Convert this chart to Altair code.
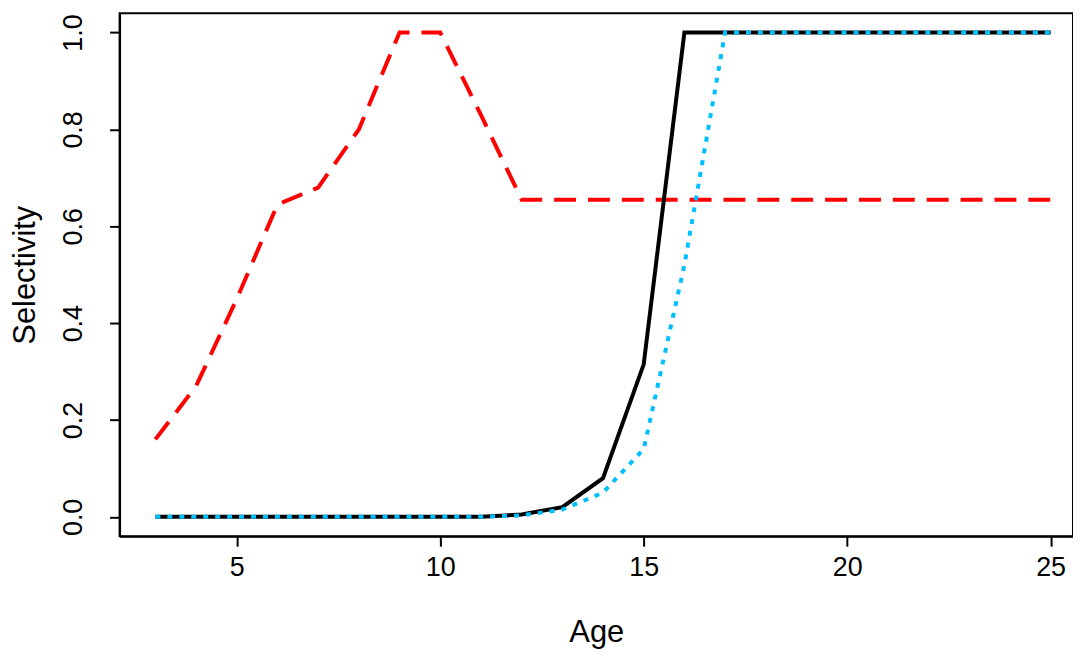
import altair as alt
import pandas as pd

ages = list(range(3, 26))
red = [0.16, 0.27, 0.45, 0.645, 0.68, 0.80, 1.0, 1.0, 0.83, 0.655] + [0.655] * 13
black = [0.0] * 9 + [0.005, 0.02, 0.08, 0.315] + [1.0] * 10
blue = [0.0] * 9 + [0.003, 0.015, 0.05, 0.14, 0.52] + [1.0] * 9

df = pd.DataFrame({"age": ages * 3,
                   "sel": red + black + blue,
                   "series": ["red"] * 23 + ["black"] * 23 + ["blue"] * 23})

x = alt.X("age:Q", title="Age", scale=alt.Scale(domain=[2.12, 25.55], nice=False, zero=False),
          axis=alt.Axis(values=[5, 10, 15, 20, 25], grid=False, tickSize=10, labelPadding=8,
                        titlePadding=38))
y = alt.Y("sel:Q", title="Selectivity", scale=alt.Scale(domain=[-0.04, 1.04], nice=False),
          axis=alt.Axis(values=[0, 0.2, 0.4, 0.6, 0.8, 1.0], format=".1f", grid=False, tickSize=10,
                        labelAngle=-90, labelAlign="center", labelBaseline="bottom",
                        labelPadding=22, titlePadding=18))

base = alt.Chart(df)
r = base.transform_filter("datum.series=='red'").mark_line(color="#ff0000", strokeWidth=4, strokeDash=[22, 12]).encode(x=x, y=y)
b = base.transform_filter("datum.series=='black'").mark_line(color="black", strokeWidth=4).encode(x=x, y=y)
c = base.transform_filter("datum.series=='blue'").mark_line(color="#00bfff", strokeWidth=4, strokeDash=[5, 7]).encode(x=x, y=y)

chart = (r + b + c).properties(
    width=957, height=525, autosize="none",
    padding={"left": 112, "top": 4, "right": 0, "bottom": 118},
).configure_view(stroke="black", strokeWidth=2).configure_axis(
    labelFont="Liberation Sans", titleFont="Liberation Sans", labelFontSize=27, titleFontSize=31,
    titleFontWeight="normal", labelColor="black", titleColor="black", domainColor="black",
    tickColor="black", domainWidth=2, tickWidth=2)

chart.save("out.html", embed_options={"renderer": "svg", "actions": False})
